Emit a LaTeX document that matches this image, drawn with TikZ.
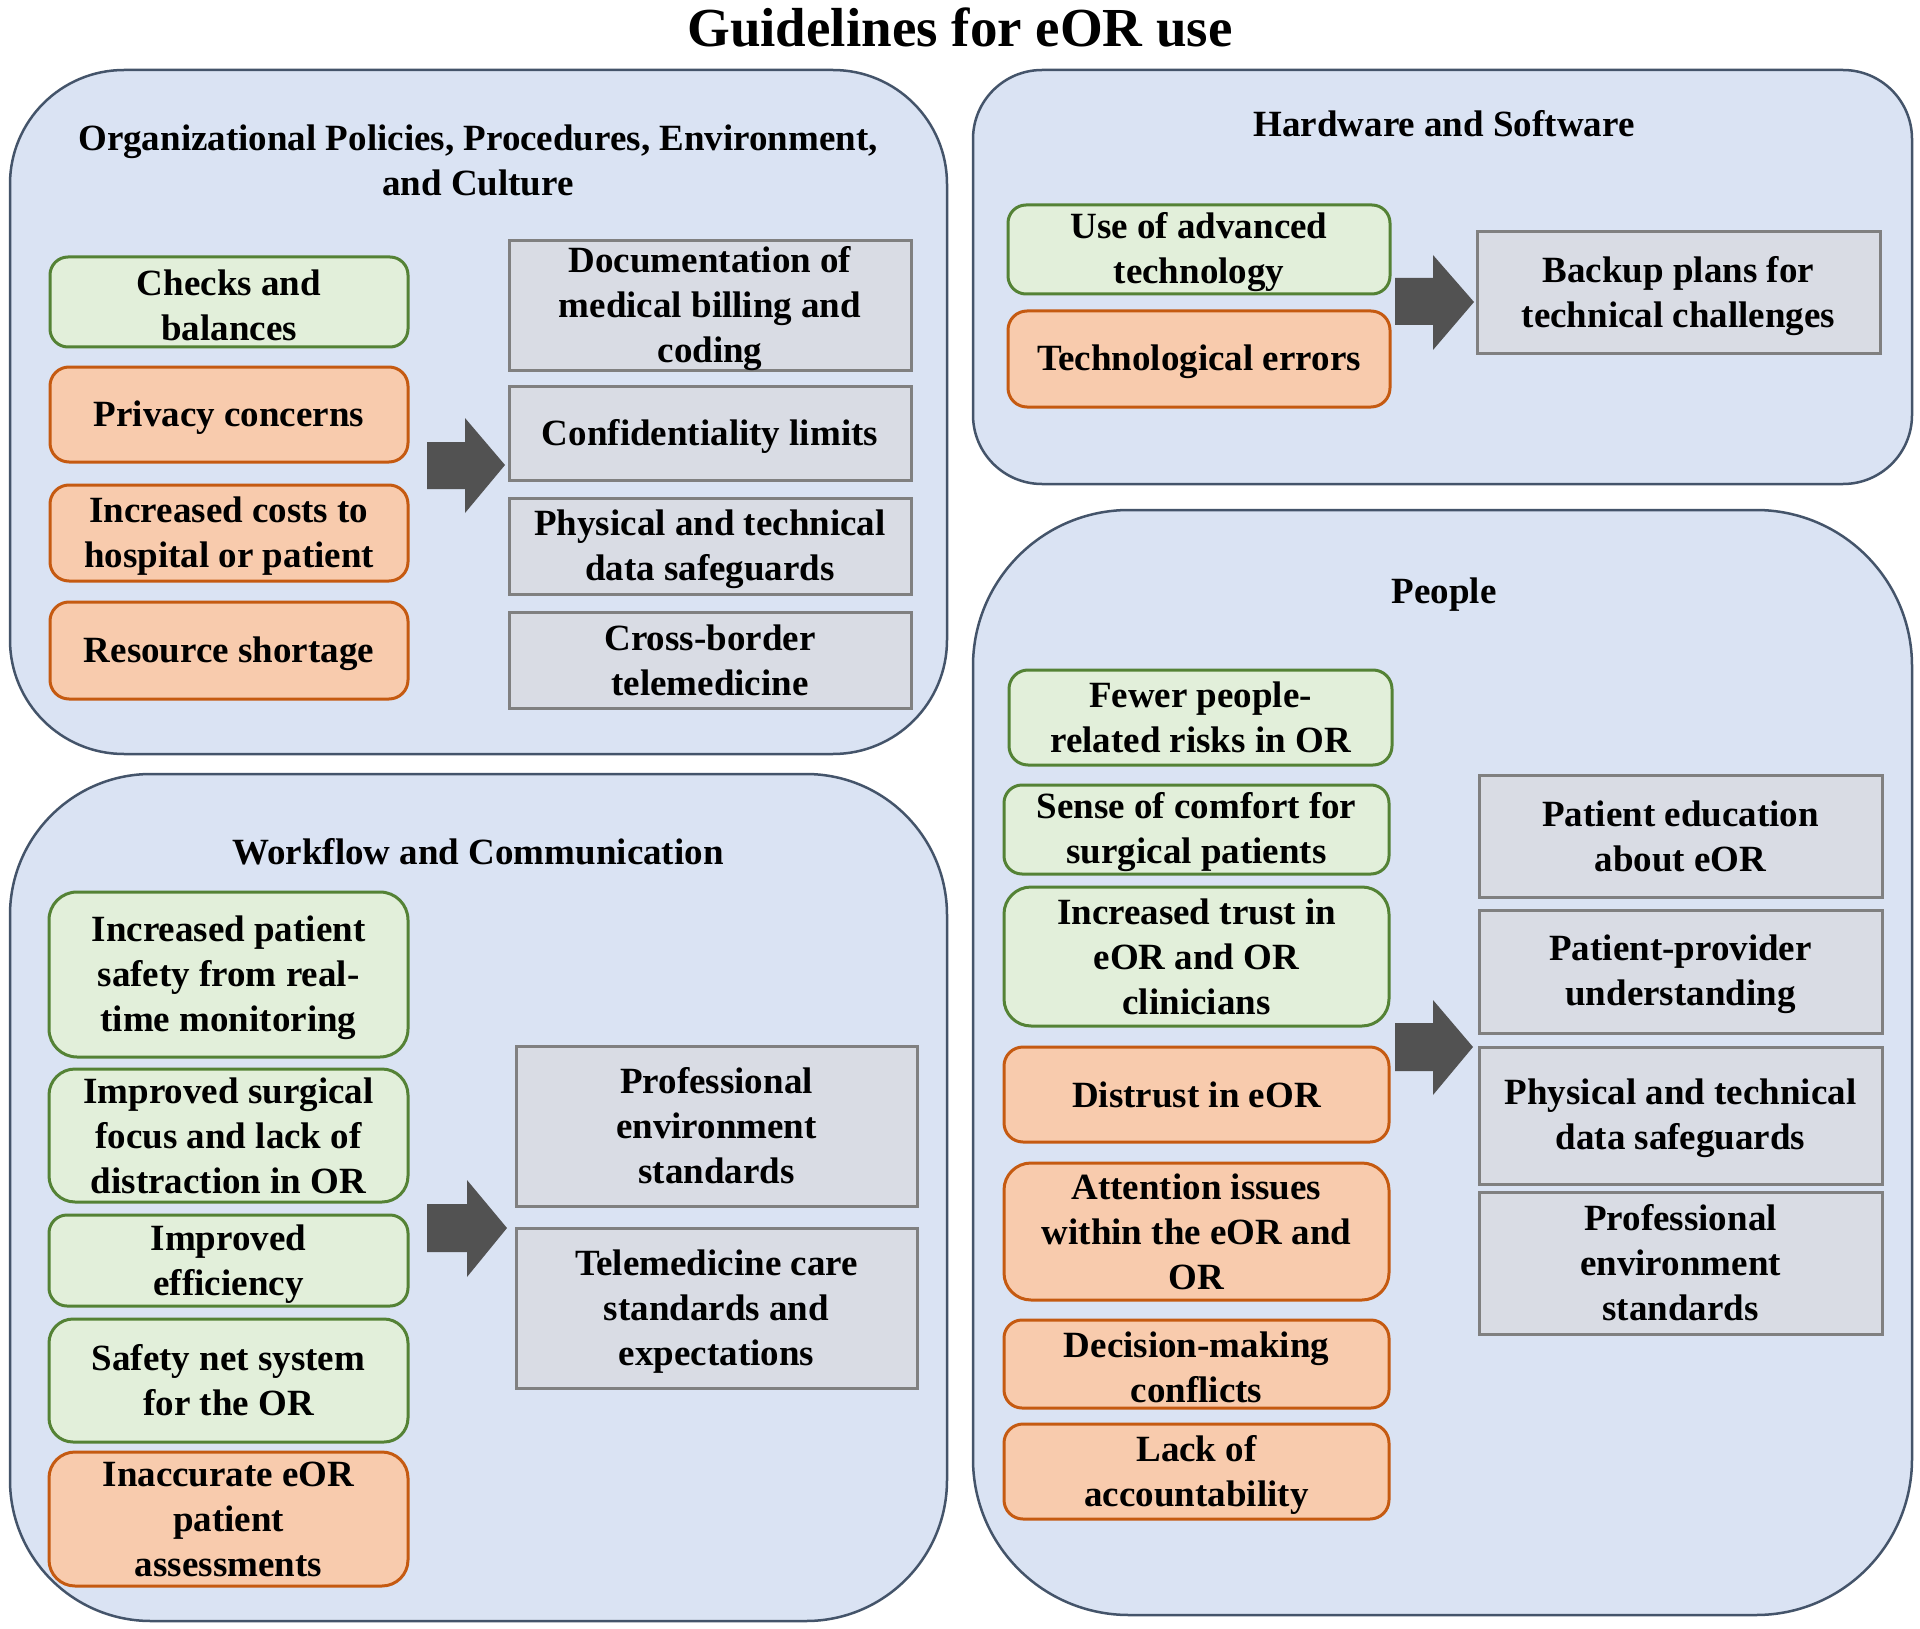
\documentclass[tikz,border=0pt]{standalone}
\usepackage{fontspec}
\setmainfont{Liberation Serif}
\definecolor{panelfill}{HTML}{DAE3F3}
\definecolor{panelline}{HTML}{44546A}
\definecolor{greenfill}{HTML}{E2EFDA}
\definecolor{greenline}{HTML}{548235}
\definecolor{orangefill}{HTML}{F8CBAD}
\definecolor{orangeline}{HTML}{C55A11}
\definecolor{grayfill}{HTML}{D9DCE4}
\definecolor{grayline}{HTML}{808080}
\definecolor{arrowfill}{HTML}{525252}
\newcommand\sx{\rule{0pt}{32pt}}
\tikzset{
  txt/.style={font=\fontsize{37}{45}\selectfont\bfseries, align=center, inner sep=0pt, text=black},
  panel/.style={fill=panelfill, draw=panelline, line width=2.5},
  gbx/.style={txt, rectangle, fill=greenfill, draw=greenline, line width=3},
  obx/.style={txt, rectangle, fill=orangefill, draw=orangeline, line width=3},
  rbx/.style={txt, rectangle, fill=grayfill, draw=grayline, line width=3},
  blockarrow/.style={fill=arrowfill, draw=none}
}
\newcommand\blockarr[8]{%
  \fill[blockarrow] (#1,#4) -- (#2,#4) -- (#2,#6) -- (#3,#8) -- (#2,#7) -- (#2,#5) -- (#1,#5) -- cycle;}
\begin{document}
\begin{tikzpicture}[x=1pt,y=-1pt]
\useasboundingbox[fill=white] (0,0) rectangle (1920,1629);

% title
\node[font=\fontsize{55}{60}\selectfont\bfseries, anchor=base, inner sep=0pt] (title) at (960,47) {Guidelines for eOR use};

% panels
\draw[panel, rounded corners=114] (10,70) rectangle (947,754);
\draw[panel, rounded corners=69] (973,70) rectangle (1912,484);
\draw[panel, rounded corners=141] (10,774) rectangle (947,1621);
\draw[panel, rounded corners=156] (973,510) rectangle (1912,1615);

% ---------- Panel 1 ----------
\node[txt] (t1) at (478,160) {Organizational Policies, Procedures, Environment,\\and Culture};
\node[gbx, minimum width=358, minimum height=90, rounded corners=18] (p1a) at (229,302) {\sx Checks and\\balances};
\node[obx, minimum width=358, minimum height=95, rounded corners=19] (p1b) at (229,414.5) {\sx Privacy concerns};
\node[obx, minimum width=358, minimum height=96, rounded corners=19] (p1c) at (229,533) {\sx Increased costs to\\hospital or patient};
\node[obx, minimum width=358, minimum height=97, rounded corners=19] (p1d) at (229,650.5) {\sx Resource shortage};
\node[rbx, minimum width=402, minimum height=127] (p1e) at (710,305.5) {\sx Documentation of\\medical billing and\\coding};
\node[rbx, minimum width=402, minimum height=94] (p1f) at (710,433) {\sx Confidentiality limits};
\node[rbx, minimum width=402, minimum height=96] (p1g) at (710,546) {\sx Physical and technical\\data safeguards};
\node[rbx, minimum width=402, minimum height=96] (p1h) at (710,660) {Cross-border\\telemedicine};
\blockarr{427}{465}{505}{442}{489}{418}{513}{465}

% ---------- Panel 2 ----------
\node[txt, anchor=base] (t2) at (1444,137) {Hardware and Software};
\node[gbx, minimum width=382, minimum height=89, rounded corners=18] (p2a) at (1199,249.5) {\sx Use of advanced\\technology};
\node[obx, minimum width=382, minimum height=96, rounded corners=19] (p2b) at (1199,359) {\sx Technological errors};
\node[rbx, minimum width=403, minimum height=122] (p2c) at (1678.5,293) {\sx Backup plans for\\technical challenges};
\blockarr{1395}{1433}{1474}{278}{325}{255}{350}{302}

% ---------- Panel 3 ----------
\node[txt, anchor=base] (t3) at (478,864) {Workflow and Communication};
\node[gbx, minimum width=359, minimum height=165, rounded corners=28] (p3a) at (228.5,974.5) {\sx Increased patient\\safety from real-\\time monitoring};
\node[gbx, minimum width=359, minimum height=133, rounded corners=26] (p3b) at (228.5,1135.5) {Improved surgical\\focus and lack of\\distraction in OR};
\node[gbx, minimum width=359, minimum height=91, rounded corners=18] (p3c) at (228.5,1260.5) {\sx Improved\\efficiency};
\node[gbx, minimum width=359, minimum height=123, rounded corners=24] (p3d) at (228.5,1380.5) {Safety net system\\for the OR};
\node[obx, minimum width=359, minimum height=134, rounded corners=26] (p3e) at (228.5,1519) {Inaccurate eOR\\patient\\assessments};
\node[rbx, minimum width=401, minimum height=160] (p3f) at (716.5,1126) {Professional\\environment\\standards};
\node[rbx, minimum width=401, minimum height=160] (p3g) at (716.5,1308) {\sx Telemedicine care\\standards and\\expectations};
\blockarr{427}{467}{507}{1204}{1252}{1180}{1277}{1228}

% ---------- Panel 4 ----------
\node[txt, anchor=base] (t4) at (1444,603) {People};
\node[gbx, minimum width=383, minimum height=95, rounded corners=19] (p4a) at (1200.5,717.5) {Fewer people-\\related risks in OR};
\node[gbx, minimum width=385, minimum height=89, rounded corners=18] (p4b) at (1196.5,829.5) {\sx Sense of comfort for\\surgical patients};
\node[gbx, minimum width=385, minimum height=139, rounded corners=27] (p4c) at (1196.5,956.5) {Increased trust in\\eOR and OR\\clinicians};
\node[obx, minimum width=385, minimum height=95, rounded corners=19] (p4d) at (1196.5,1094.5) {Distrust in eOR};
\node[obx, minimum width=385, minimum height=137, rounded corners=27] (p4e) at (1196.5,1231.5) {Attention issues\\within the eOR and\\OR};
\node[obx, minimum width=385, minimum height=88, rounded corners=18] (p4f) at (1196.5,1364) {\sx Decision-making\\conflicts};
\node[obx, minimum width=385, minimum height=95, rounded corners=19] (p4g) at (1196.5,1471.5) {\sx Lack of\\accountability};
\node[rbx, minimum width=403, minimum height=122] (p4h) at (1680.5,836) {Patient education\\about eOR};
\node[rbx, minimum width=403, minimum height=123] (p4i) at (1680.5,971.5) {\sx Patient-provider\\understanding};
\node[rbx, minimum width=403, minimum height=137] (p4j) at (1680.5,1115.5) {\sx Physical and technical\\data safeguards};
\node[rbx, minimum width=403, minimum height=142] (p4k) at (1680.5,1263) {Professional\\environment\\standards};
\blockarr{1395}{1433}{1473}{1023}{1071}{1000}{1095}{1047}
\end{tikzpicture}
\end{document}
